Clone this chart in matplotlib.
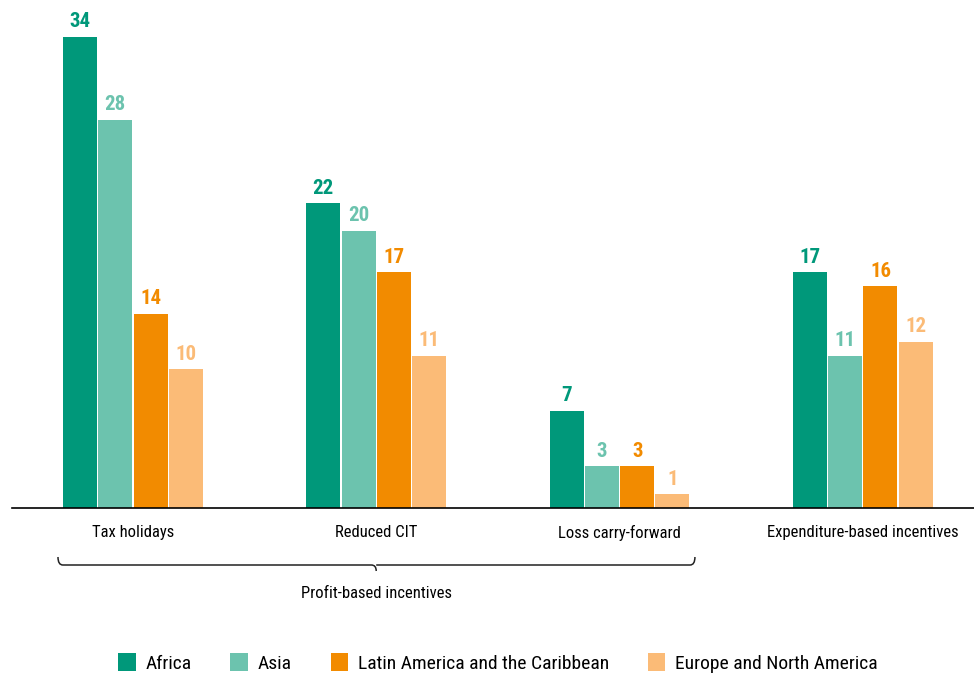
import matplotlib.pyplot as plt
import matplotlib.transforms as mtransforms
from matplotlib.path import Path
from matplotlib.patches import PathPatch
import numpy as np

plt.rcParams['font.family'] = ['Roboto Condensed', 'Liberation Sans Narrow', 'Liberation Sans', 'DejaVu Sans']

categories = ['Tax holidays', 'Reduced CIT', 'Loss carry-forward', 'Expenditure-based incentives']
regions = ['Africa', 'Asia', 'Latin America and the Caribbean', 'Europe and North America']
africa = [34, 22, 7, 17]
asia = [28, 20, 3, 11]
latam = [14, 17, 3, 16]
europe = [10, 11, 1, 12]
colors = ['#00987A', '#6CC3AE', '#F28B00', '#FBBB77']

series = [africa, asia, latam, europe]

fig = plt.figure(figsize=(9.74, 6.75), dpi=100)
ax = fig.add_axes([12 / 974, 1 - 508 / 675, 1 - 12 / 974, 508 / 675 - 9 / 675])

x = np.arange(len(categories))
w = 0.14
step = 0.145
for i, (vals, col, name) in enumerate(zip(series, colors, regions)):
    pos = x + (i - 1.5) * step
    ax.bar(pos, vals, width=w, color=col, label=name)
    for p, v in zip(pos, vals):
        ax.text(p, v + 0.4, str(v), ha='center', va='bottom', color=col,
                fontsize=15, fontweight='bold')

ax.set_xlim(-0.497, 3.457)
ax.set_ylim(0, 36)
for s in ['top', 'right', 'left']:
    ax.spines[s].set_visible(False)
ax.spines['bottom'].set_linewidth(1.2)
ax.set_yticks([])
ax.set_xticks(x)
ax.set_xticklabels(categories, fontsize=12)
ax.tick_params(axis='x', length=0, pad=12)

# bracket under the profit-based groups
tr = mtransforms.blended_transform_factory(ax.transData, fig.transFigure)
x0, x1, xm = -0.308, 2.31, 1.0
yb = 1 - 565 / 675
yc = 1 - 557 / 675
ym = 1 - 571 / 675
d = 0.02
verts = [(x0, yc), (x0, yb), (x0 + d, yb),
         (xm - d, yb), (xm, yb), (xm, ym),
         (xm, yb), (xm + d, yb),
         (x1 - d, yb), (x1, yb), (x1, yc)]
codes = [Path.MOVETO, Path.CURVE3, Path.CURVE3,
         Path.LINETO, Path.CURVE3, Path.CURVE3,
         Path.MOVETO, Path.LINETO,
         Path.LINETO, Path.CURVE3, Path.CURVE3]
fig.add_artist(PathPatch(Path(verts, codes), transform=tr, fill=False,
                         lw=1.1, color='#222222'))
fig.text(xm, 1 - 593 / 675, 'Profit-based incentives', transform=tr,
         ha='center', va='center', fontsize=12)

fig.legend(loc='center', bbox_to_anchor=(498 / 974, 1 - 663 / 675), ncol=4,
           frameon=False, fontsize=14, handlelength=0.9, handleheight=1.0,
           columnspacing=2.0, handletextpad=0.5)

plt.savefig('out.png', dpi=100)
